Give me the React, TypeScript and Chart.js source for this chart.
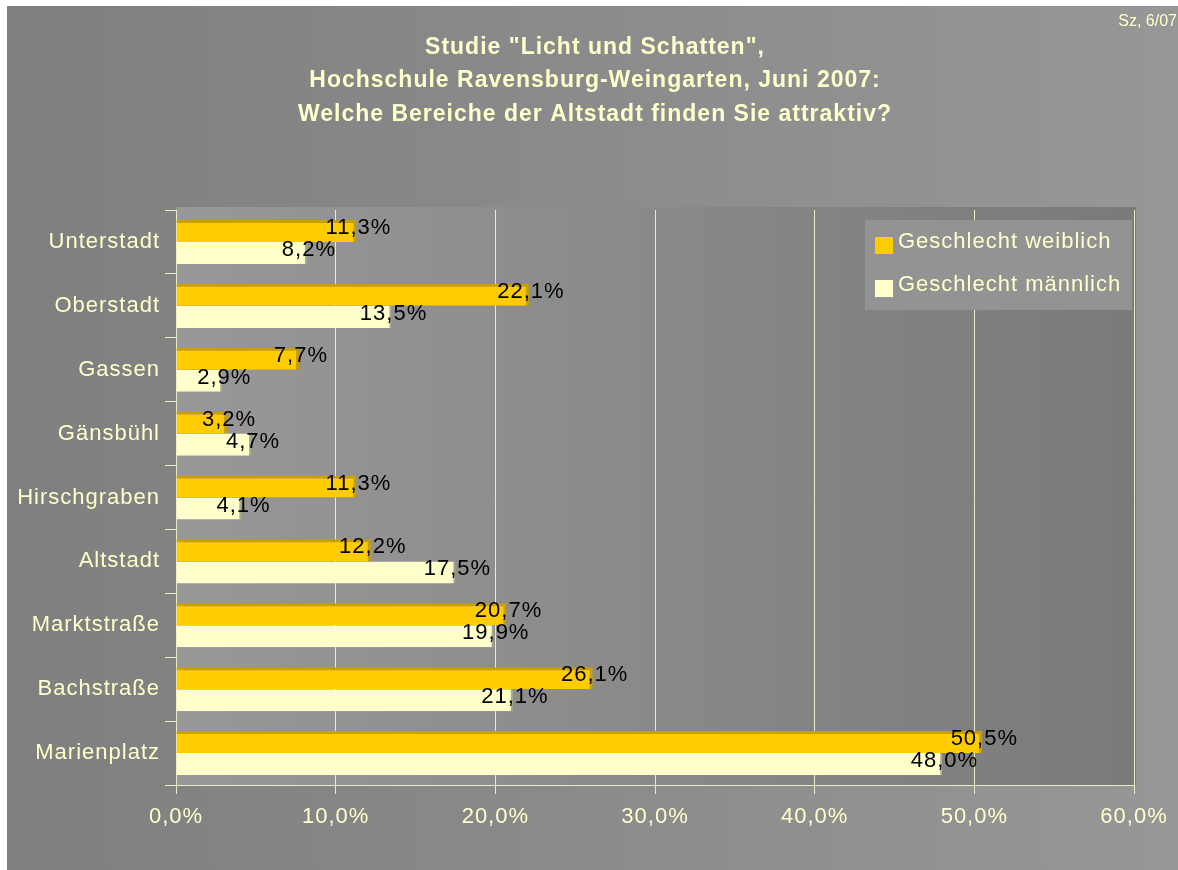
import React, { useEffect, useRef } from 'react';
import { Chart, registerables } from 'chart.js';

Chart.register(...registerables);

// ---- data ----
const categories = ['Unterstadt', 'Oberstadt', 'Gassen', 'Gänsbühl', 'Hirschgraben', 'Altstadt', 'Marktstraße', 'Bachstraße', 'Marienplatz'];
const weiblich = [11.3, 22.1, 7.7, 3.2, 11.3, 12.2, 20.7, 26.1, 50.5];
const maennlich = [8.2, 13.5, 2.9, 4.7, 4.1, 17.5, 19.9, 21.1, 48.0];
const seriesNames = ['Geschlecht weiblich', 'Geschlecht männlich'];
const titleLines = ['Studie "Licht und Schatten",', 'Hochschule Ravensburg-Weingarten, Juni 2007:', 'Welche Bereiche der Altstadt finden Sie attraktiv?'];
const cornerNote = 'Sz, 6/07';
const axisMin = 0;
const axisMax = 60;
const axisStep = 10;

// ---- style ----
const FONT = '"Liberation Sans", Arial, Helvetica, sans-serif';
const CREAM = '#FFFFCC';
const LINE = '#ECECC4';
const ORANGE = '#FFCC00';
const ORANGE_EDGE = '#C9A000';
const LIGHT = '#FFFFCC';
const LIGHT_EDGE = '#A9A994';

const fmt = (v: number) => Number(v).toFixed(1).replace('.', ',') + '%';

const decoPlugin = {
  id: 'deco',
  beforeDraw(chart: any) {
    const { ctx, width, height, chartArea: ca } = chart;
    try { (ctx as any).letterSpacing = '1px'; } catch (e) { /* ignore */ }
    ctx.save();
    let g = ctx.createLinearGradient(0, 0, width, 0);
    g.addColorStop(0, '#7f7f7f');
    g.addColorStop(1, '#979797');
    ctx.fillStyle = g;
    ctx.fillRect(0, 0, width, height);
    g = ctx.createLinearGradient(ca.left, 0, ca.right, 0);
    g.addColorStop(0, '#989898');
    g.addColorStop(1, '#7a7a7a');
    ctx.fillStyle = g;
    ctx.fillRect(ca.left, ca.top - 3, ca.right - ca.left + 2, ca.bottom - ca.top + 3);

    // title
    ctx.font = `bold 23px ${FONT}`;
    ctx.fillStyle = CREAM;
    ctx.textAlign = 'center';
    ctx.textBaseline = 'middle';
    titleLines.forEach((line, i) => {
      ctx.fillText(line, 588, 41.5 + i * 33.5);
    });
    ctx.restore();
  },
  afterDatasetsDraw(chart: any) {
    const { ctx } = chart;
    ctx.save();
    ctx.font = `22px ${FONT}`;
    ctx.fillStyle = '#000000';
    ctx.textAlign = 'center';
    ctx.textBaseline = 'middle';
    chart.data.datasets.forEach((ds: any, i: number) => {
      const meta = chart.getDatasetMeta(i);
      meta.data.forEach((bar: any, j: number) => {
        ctx.fillText(fmt(ds.data[j]), bar.x + 2, bar.y - 3);
      });
    });
    ctx.restore();
  },
  afterDraw(chart: any) {
    const { ctx, width } = chart;
    ctx.save();
    // legend
    ctx.fillStyle = '#939393';
    ctx.fillRect(858, 214, 267, 90);
    const colors = [ORANGE, LIGHT];
    const ys = [236, 279];
    ctx.font = `22px ${FONT}`;
    ctx.textAlign = 'left';
    ctx.textBaseline = 'middle';
    seriesNames.forEach((name, i) => {
      ctx.fillStyle = colors[i];
      ctx.fillRect(868, ys[i] - 5, 18, 17);
      ctx.fillStyle = CREAM;
      ctx.fillText(name, 891, ys[i]);
    });
    // corner note
    try { (ctx as any).letterSpacing = '0px'; } catch (e) { /* ignore */ }
    ctx.font = `16px ${FONT}`;
    ctx.textAlign = 'right';
    ctx.fillStyle = CREAM;
    ctx.fillText(cornerNote, width - 1, 16);
    ctx.restore();
  },
};

export default function App() {
  const ref = useRef<HTMLCanvasElement | null>(null);
  useEffect(() => {
    document.body.style.margin = '0';
    const canvas = ref.current!;
    const chart = new Chart(canvas, {
      type: 'bar',
      data: {
        labels: categories,
        datasets: [
          {
            label: seriesNames[0],
            data: weiblich,
            backgroundColor: ORANGE,
            borderColor: ORANGE_EDGE,
            borderWidth: { top: 3, right: 3, bottom: 0, left: 0 } as any,
            borderSkipped: false as any,
          },
          {
            label: seriesNames[1],
            data: maennlich,
            backgroundColor: LIGHT,
            borderColor: LIGHT_EDGE,
            borderWidth: { top: 0, right: 2, bottom: 0, left: 0 } as any,
            borderSkipped: false as any,
          },
        ],
      },
      options: {
        indexAxis: 'y',
        responsive: false,
        animation: false,
        maintainAspectRatio: false,
        datasets: { bar: { categoryPercentage: 0.69, barPercentage: 1.0 } },
        layout: { padding: { left: 0, right: 44, top: 204, bottom: 39 } },
        plugins: {
          legend: { display: false },
          tooltip: { enabled: false },
          title: { display: false },
        },
        scales: {
          x: {
            type: 'linear',
            min: axisMin,
            max: axisMax,
            ticks: {
              stepSize: axisStep,
              color: CREAM,
              font: { family: FONT, size: 22 },
              padding: 10,
              callback: (v: any) => fmt(v),
            },
            grid: { color: LINE, lineWidth: 1, tickLength: 9, drawTicks: true },
            border: { color: LINE, width: 1 },
            afterFit: (s: any) => { s.height = 46; },
          },
          y: {
            type: 'category',
            ticks: { color: CREAM, font: { family: FONT, size: 22 }, padding: 5 },
            grid: { display: true, drawOnChartArea: false, drawTicks: true, tickLength: 11, color: LINE, offset: true },
            border: { color: LINE, width: 1 },
            afterFit: (s: any) => { s.width = 169; },
          },
        },
      },
      plugins: [decoPlugin],
    } as any);
    return () => chart.destroy();
  }, []);
  return (
    <canvas
      ref={ref}
      width={1171}
      height={864}
      style={{ position: 'absolute', left: 7, top: 6, width: 1171, height: 864, display: 'block' }}
    />
  );
}
